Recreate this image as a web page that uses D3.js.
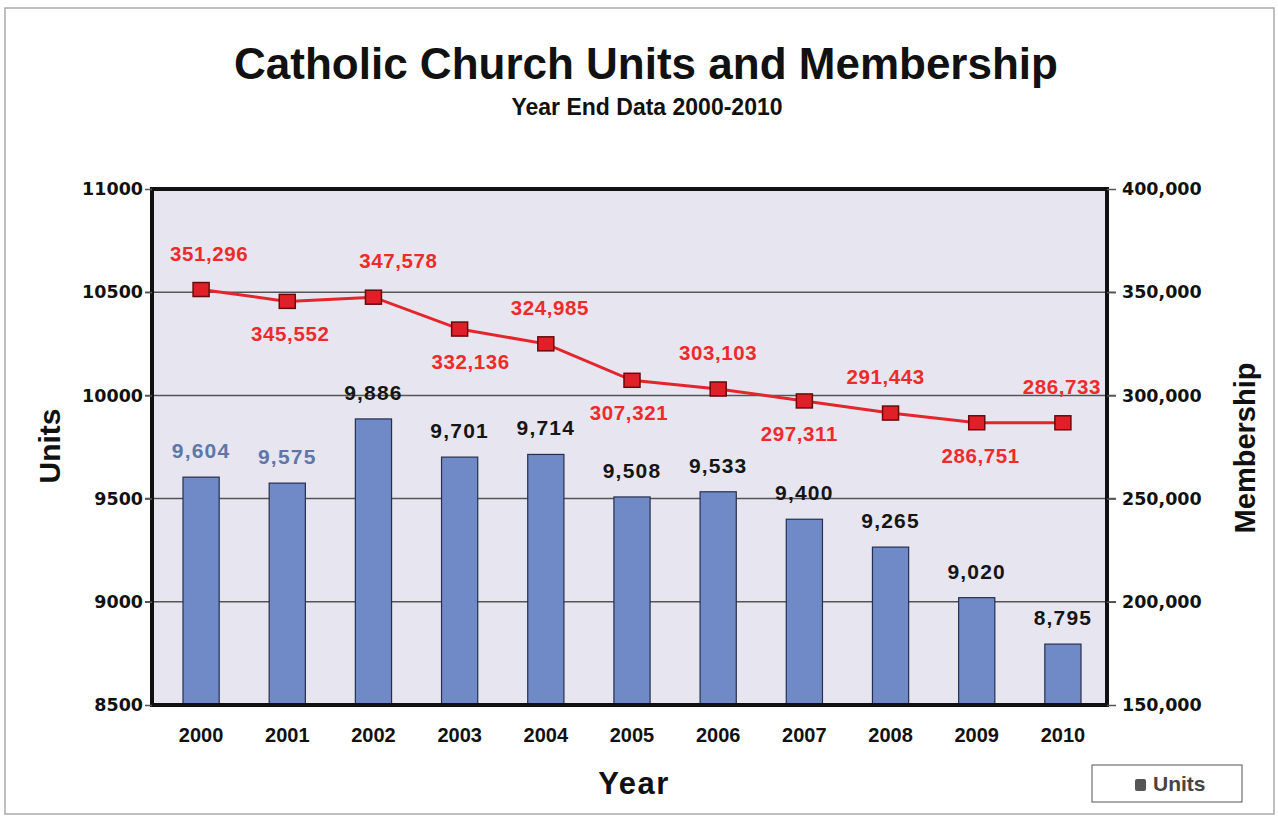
<!DOCTYPE html>
<html lang="en">
<head>
<meta charset="UTF-8">
<title>Catholic Church Units and Membership</title>
<style>
  body { margin: 0; background: #fff; }
  text { font-family: "Liberation Sans", Arial, sans-serif; font-weight: bold; }
  .yaxis .tick text { font-family: "DejaVu Sans", sans-serif; font-size: 17.5px; fill: #111; }
  .xaxis .tick text { font-size: 20px; fill: #111; }
  .axis path { display: none; }
</style>
</head>
<body>
<svg width="1278" height="818"></svg>
<script src="https://cdn.jsdelivr.net/npm/d3@7/dist/d3.min.js"></script>
<script>
// data
var years = ["2000", "2001", "2002", "2003", "2004", "2005", "2006", "2007", "2008", "2009", "2010"];
var units = [9604, 9575, 9886, 9701, 9714, 9508, 9533, 9400, 9265, 9020, 8795];
var membership = [351296, 345552, 347578, 332136, 324985, 307321, 303103, 297311, 291443, 286751, 286733];
var unitTicks = [8500, 9000, 9500, 10000, 10500, 11000];
var memberTicks = [150000, 200000, 250000, 300000, 350000, 400000];

// label placement for membership values (above / below the marker) and small nudges
var memberLabelSide = ["up", "down", "up", "down", "up", "down", "up", "down", "up", "down", "up"];
var memberLabelDx = [8, 3, 25, 11, 4, -3, 0, -5, -5, 4, -1];

var svg = d3.select("svg");
var plot = { left: 152, right: 1107, top: 189, bottom: 705 };

// outer frame
svg.append("rect")
  .attr("x", 5).attr("y", 8).attr("width", 1269).attr("height", 806)
  .attr("fill", "none").attr("stroke", "#aaa").attr("stroke-width", 1.5);

var x = d3.scaleBand().domain(years).range([158, 1106]).paddingInner(0.58).paddingOuter(0.29);
var yL = d3.scaleLinear().domain([8500, 11000]).range([plot.bottom, plot.top]);
var yR = d3.scaleLinear().domain([150000, 400000]).range([plot.bottom, plot.top]);

// plot background
svg.append("rect")
  .attr("x", plot.left).attr("y", plot.top)
  .attr("width", plot.right - plot.left).attr("height", plot.bottom - plot.top)
  .attr("fill", "#e7e5ef");

// gridlines
svg.append("g").selectAll("line")
  .data(unitTicks.slice(1, -1))
  .enter().append("line")
  .attr("x1", plot.left - 7).attr("x2", plot.right + 9)
  .attr("y1", function(d){ return yL(d); })
  .attr("y2", function(d){ return yL(d); })
  .attr("stroke", "#555").attr("stroke-width", 1.5);

// bars
var cx = function(i){ return x(years[i]) + x.bandwidth() / 2; };
svg.append("g").selectAll("rect")
  .data(units)
  .enter().append("rect")
  .attr("x", function(d, i){ return x(years[i]); })
  .attr("y", function(d){ return yL(d); })
  .attr("width", x.bandwidth())
  .attr("height", function(d){ return plot.bottom - yL(d); })
  .attr("fill", "#7089c7")
  .attr("stroke", "#26304d").attr("stroke-width", 1.2);

svg.append("g").selectAll("text")
  .data(units)
  .enter().append("text")
  .attr("x", function(d, i){ return cx(i); })
  .attr("y", function(d){ return yL(d) - 19; })
  .attr("text-anchor", "middle")
  .attr("font-size", 21).attr("letter-spacing", 1.2)
  .attr("fill", function(d, i){ return i < 2 ? "#5f76a9" : "#151515"; })
  .text(function(d){ return d3.format(",")(d); });

// plot border
svg.append("rect")
  .attr("x", plot.left).attr("y", plot.top)
  .attr("width", plot.right - plot.left).attr("height", plot.bottom - plot.top)
  .attr("fill", "none").attr("stroke", "#111").attr("stroke-width", 4);

// membership line
var line = d3.line()
  .x(function(d, i){ return cx(i); })
  .y(function(d){ return yR(d); });
svg.append("path")
  .datum(membership)
  .attr("d", line)
  .attr("fill", "none").attr("stroke", "#e3262c").attr("stroke-width", 3);

svg.append("g").selectAll("rect")
  .data(membership)
  .enter().append("rect")
  .attr("x", function(d, i){ return cx(i) - 8; })
  .attr("y", function(d){ return yR(d) - 7; })
  .attr("width", 16).attr("height", 14)
  .attr("fill", "#df2029").attr("stroke", "#6a0a0a").attr("stroke-width", 1.5);

svg.append("g").selectAll("text")
  .data(membership)
  .enter().append("text")
  .attr("x", function(d, i){ return cx(i) + memberLabelDx[i]; })
  .attr("y", function(d, i){ return yR(d) + (memberLabelSide[i] === "up" ? -29 : 40); })
  .attr("text-anchor", "middle")
  .attr("font-size", 20.5).attr("letter-spacing", 0.6)
  .attr("fill", "#ee2b2b")
  .text(function(d){ return d3.format(",")(d); });

// axes
svg.append("g")
  .attr("class", "axis yaxis")
  .attr("transform", "translate(" + plot.left + ",0)")
  .call(d3.axisLeft(yL).tickValues(unitTicks).tickFormat(d3.format("d")).tickSize(7).tickPadding(2))
  .selectAll(".tick line").attr("stroke", "#555").attr("stroke-width", 1.5);

svg.append("g")
  .attr("class", "axis yaxis")
  .attr("transform", "translate(" + plot.right + ",0)")
  .call(d3.axisRight(yR).tickValues(memberTicks).tickFormat(d3.format(",")).tickSize(9).tickPadding(6))
  .selectAll(".tick line").attr("stroke", "#555").attr("stroke-width", 1.5);

svg.append("g")
  .attr("class", "axis xaxis")
  .attr("transform", "translate(0," + plot.bottom + ")")
  .call(d3.axisBottom(x).tickSize(0).tickPadding(23));

// titles
svg.append("text")
  .attr("x", 646).attr("y", 79)
  .attr("text-anchor", "middle").attr("font-size", 44).attr("fill", "#111")
  .text("Catholic Church Units and Membership");
svg.append("text")
  .attr("x", 647).attr("y", 115)
  .attr("text-anchor", "middle").attr("font-size", 23).attr("fill", "#111")
  .text("Year End Data 2000-2010");

svg.append("text")
  .attr("transform", "translate(60,446) rotate(-90)")
  .attr("text-anchor", "middle").attr("font-size", 30).attr("fill", "#111")
  .text("Units");
svg.append("text")
  .attr("transform", "translate(1255,448) rotate(-90)")
  .attr("text-anchor", "middle").attr("font-size", 29).attr("fill", "#111")
  .text("Membership");
svg.append("text")
  .attr("x", 634).attr("y", 794)
  .attr("text-anchor", "middle").attr("font-size", 31).attr("fill", "#111")
  .attr("letter-spacing", 1.5)
  .text("Year");

// legend
var legend = svg.append("g").attr("transform", "translate(1092,765)");
legend.append("rect")
  .attr("width", 150).attr("height", 37)
  .attr("fill", "#fff").attr("stroke", "#555").attr("stroke-width", 1);
legend.append("rect")
  .attr("x", 43).attr("y", 14).attr("width", 11).attr("height", 12)
  .attr("fill", "#555").attr("rx", 2);
legend.append("text")
  .attr("x", 61).attr("y", 26)
  .attr("font-size", 21).attr("font-weight", "normal").attr("fill", "#444")
  .text("Units");
</script>
</body>
</html>
